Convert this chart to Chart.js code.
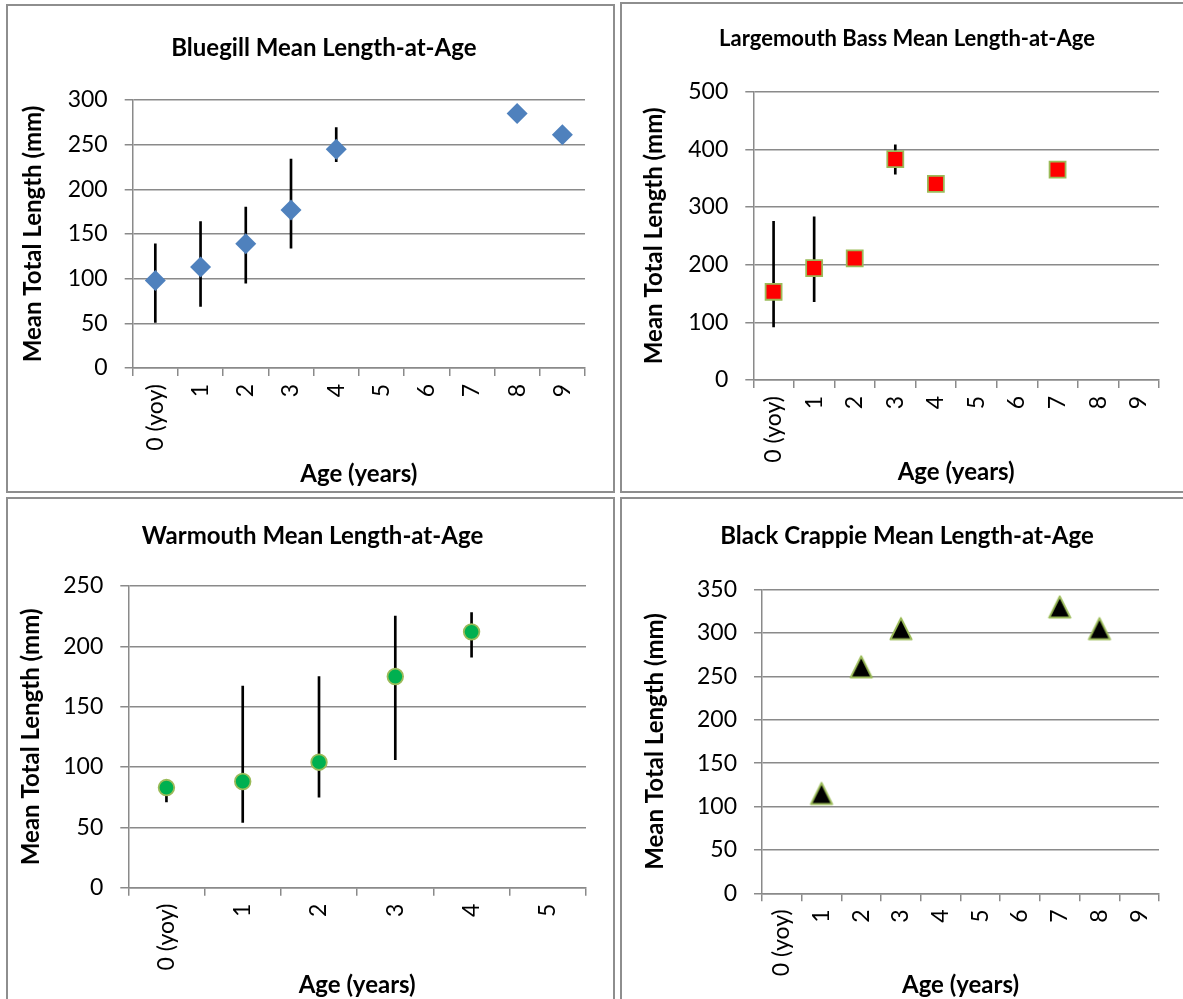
<!DOCTYPE html>
<html>
<head>
<meta charset="utf-8">
<title>Mean Length-at-Age</title>
<script src="https://cdn.jsdelivr.net/npm/chart.js@4.4.1/dist/chart.umd.min.js"></script>
<style>
  html, body { margin: 0; padding: 0; background: #fff; overflow: hidden; }
  .panel { position: absolute; box-sizing: border-box; border: 2px solid #8e8e8e; background: #fff; overflow: hidden; }
  .panel canvas { position: absolute; left: 0; top: 0; }
</style>
</head>
<body>
<div class="panel" id="p1" style="left:6px;top:4px;width:609px;height:489px"><canvas id="bluegill"></canvas></div>
<div class="panel" id="p2" style="left:620px;top:2px;width:600px;height:491px"><canvas id="bass"></canvas></div>
<div class="panel" id="p3" style="left:6px;top:497px;width:609px;height:520px"><canvas id="warmouth"></canvas></div>
<div class="panel" id="p4" style="left:620px;top:497px;width:600px;height:520px"><canvas id="crappie"></canvas></div>
<script>
const FONT = 'Lato, "Open Sans", sans-serif'
const GRID = '#8a8a8a'
const LIGHT_GREEN = '#9bbb59'

// ages on the x axis
const ages10 = ['0 (yoy)', '1', '2', '3', '4', '5', '6', '7', '8', '9']
const ages6 = ['0 (yoy)', '1', '2', '3', '4', '5']

// Bluegill (mm)
const bluegillMean = [98, 113, 139, 177, 245, null, null, null, 285, 261]
const bluegillLow = [51, 69, 95, 134, 231, null, null, null, null, null]
const bluegillHigh = [139, 164, 180, 234, 269, null, null, null, null, null]

// Largemouth Bass (mm)
const bassMean = [153, 194, 211, 383, 340, null, null, 365, null, null]
const bassLow = [92, 136, null, 357, null, null, null, null, null, null]
const bassHigh = [275, 283, null, 408, null, null, null, null, null, null]

// Warmouth (mm)
const warmouthMean = [83, 88, 104, 175, 212, null]
const warmouthLow = [71, 54, 75, 106, 191, null]
const warmouthHigh = [88, 167, 175, 225, 228, null]

// Black Crappie (mm)
const crappieMean = [null, 115, 261, 305, null, null, null, 330, 305, null]

const errorRanges = (low, high) => low.map((v, i) => (v == null ? null : [v, high[i]]))

// Excel style triangle marker, centred on its bounding box
function triangleMarker() {
  const c = document.createElement('canvas')
  c.width = 26
  c.height = 26
  const ctx = c.getContext('2d')
  ctx.beginPath()
  ctx.moveTo(13, 2.4)
  ctx.lineTo(23.6, 23.6)
  ctx.lineTo(2.4, 23.6)
  ctx.closePath()
  ctx.fillStyle = '#000'
  ctx.fill()
  ctx.lineJoin = 'round'
  ctx.lineWidth = 2
  ctx.strokeStyle = LIGHT_GREEN
  ctx.stroke()
  return c
}

function drawPanel(id, p) {
  const canvas = document.getElementById(id)
  const box = canvas.parentElement.getBoundingClientRect()
  const ox = box.left + 2
  const oy = box.top + 2
  const cw = box.width - 4
  const ch = box.height - 4
  canvas.width = cw
  canvas.height = ch

  const lh = 1.2
  const plotL = p.plot.l - ox
  const plotR = p.plot.r - ox
  const plotT = p.plot.t - oy
  const plotB = p.plot.b - oy
  // left padding centres the title; keep the y axis wide enough for its labels
  const padLeft = Math.min(2 * (p.titleX - ox) - plotR, plotL - 70)
  const padRight = cw - plotR
  const titleTop = p.titleY - oy - (p.titleSize * lh) / 2
  const titleBottom = plotT - p.titleSize * lh - titleTop
  const yTitlePad = p.yTitleX - ox - padLeft - (24 * lh) / 2
  const xTitlePad = ch - (p.xTitleY - oy) - (24 * lh) / 2

  new Chart(canvas, {
    type: 'bar',
    data: {
      labels: p.labels,
      datasets: [
        {
          type: 'line',
          data: p.mean,
          showLine: false,
          pointStyle: p.marker.style,
          pointRadius: p.marker.radius,
          pointBackgroundColor: p.marker.fill,
          pointBorderColor: p.marker.border,
          pointBorderWidth: p.marker.borderWidth,
          order: 0,
        },
        {
          type: 'bar',
          data: p.low ? errorRanges(p.low, p.high) : [],
          backgroundColor: '#000',
          barThickness: 2,
          order: 1,
        },
      ],
    },
    options: {
      responsive: false,
      animation: false,
      devicePixelRatio: 1,
      layout: { padding: { left: padLeft, right: padRight, top: 0, bottom: 0 } },
      plugins: {
        legend: { display: false },
        tooltip: { enabled: false },
        title: {
          display: true,
          text: p.title,
          color: '#000',
          font: { family: FONT, size: p.titleSize, weight: 'bold' },
          padding: { top: titleTop, bottom: titleBottom },
        },
      },
      scales: {
        x: {
          offset: true,
          grid: { offset: true, drawOnChartArea: false, drawTicks: true, tickLength: 8, color: GRID, lineWidth: 1.5 },
          border: { color: GRID, width: 1.5 },
          ticks: {
            autoSkip: false,
            minRotation: 90,
            maxRotation: 90,
            padding: 8,
            color: '#000',
            font: { family: FONT, size: 23 },
          },
          title: {
            display: true,
            text: 'Age (years)',
            color: '#000',
            font: { family: FONT, size: 24, weight: 'bold' },
            padding: { top: 0, bottom: xTitlePad },
          },
          afterFit: (s) => { s.height = ch - plotB },
        },
        y: {
          min: 0,
          max: p.yMax,
          ticks: { stepSize: p.yStep, padding: 17, color: '#000', font: { family: FONT, size: 23 } },
          grid: { color: GRID, lineWidth: 1.5, tickLength: 8 },
          border: { color: GRID, width: 1.5 },
          title: {
            display: true,
            text: 'Mean Total Length (mm)',
            color: '#000',
            font: { family: FONT, size: 24, weight: 'bold' },
            padding: yTitlePad,
          },
          afterFit: (s) => { s.width = plotL - padLeft },
        },
      },
    },
  })
}

drawPanel('bluegill', {
  title: 'Bluegill Mean Length-at-Age',
  labels: ages10,
  mean: bluegillMean,
  low: bluegillLow,
  high: bluegillHigh,
  yMax: 300,
  yStep: 50,
  marker: { style: 'rectRot', radius: 10.5, fill: '#4f81bd', border: '#4f81bd', borderWidth: 0 },
  plot: { l: 132.7, r: 585, t: 100, b: 368 },
  titleX: 331.5, titleY: 48, titleSize: 24,
  yTitleX: 33.5, xTitleY: 474,
})

drawPanel('bass', {
  title: 'Largemouth Bass Mean Length-at-Age',
  labels: ages10,
  mean: bassMean,
  low: bassLow,
  high: bassHigh,
  yMax: 500,
  yStep: 100,
  marker: { style: 'rect', radius: 11.3, fill: '#ff0000', border: LIGHT_GREEN, borderWidth: 1.8 },
  plot: { l: 753.3, r: 1159, t: 91.7, b: 380 },
  titleX: 907, titleY: 39, titleSize: 22,
  yTitleX: 654, xTitleY: 472,
})

drawPanel('warmouth', {
  title: 'Warmouth Mean Length-at-Age',
  labels: ages6,
  mean: warmouthMean,
  low: warmouthLow,
  high: warmouthHigh,
  yMax: 250,
  yStep: 50,
  marker: { style: 'circle', radius: 7.8, fill: '#00b050', border: LIGHT_GREEN, borderWidth: 1.8 },
  plot: { l: 128.3, r: 586, t: 586, b: 887.7 },
  titleX: 312.5, titleY: 536, titleSize: 24,
  yTitleX: 31, xTitleY: 985,
})

drawPanel('crappie', {
  title: 'Black Crappie Mean Length-at-Age',
  labels: ages10,
  mean: crappieMean,
  low: null,
  high: null,
  yMax: 350,
  yStep: 50,
  marker: { style: triangleMarker(), radius: 12, fill: '#000', border: LIGHT_GREEN, borderWidth: 0 },
  plot: { l: 762, r: 1159, t: 589.7, b: 893.3 },
  titleX: 907, titleY: 536, titleSize: 24,
  yTitleX: 655, xTitleY: 985,
})
</script>
</body>
</html>
